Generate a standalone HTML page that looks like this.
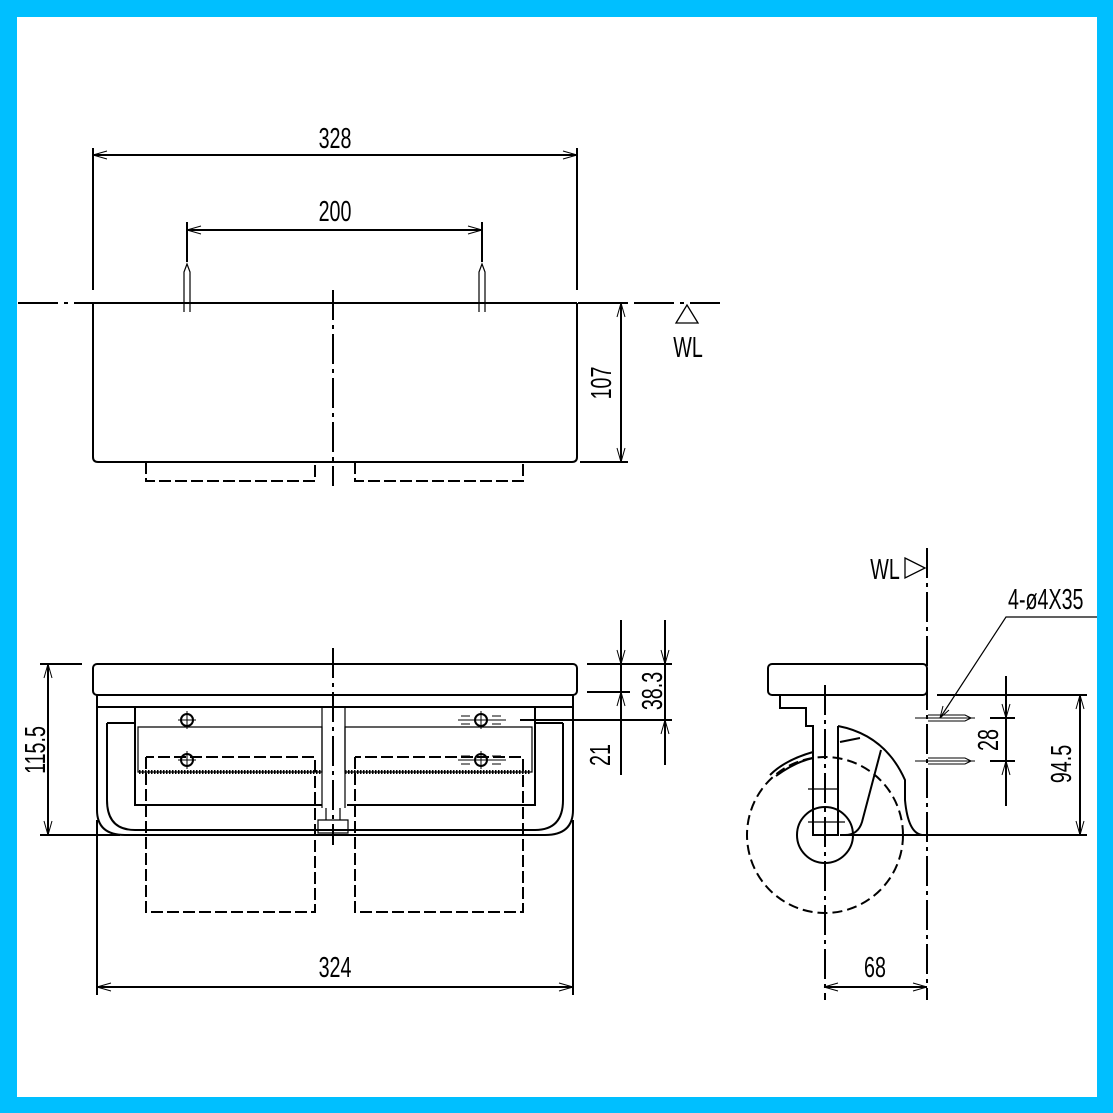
<!DOCTYPE html>
<html><head><style>
html,body{margin:0;padding:0;background:#fff}
svg{display:block}
text{font-family:"Liberation Sans Narrow","Liberation Sans",sans-serif;font-size:24px;fill:#000}
</style></head><body>
<svg width="1113" height="1113" viewBox="0 0 1113 1113" xmlns="http://www.w3.org/2000/svg">
<rect x="0" y="0" width="1113" height="1113" fill="#00BFFF"/>
<rect x="17" y="17" width="1080" height="1080" fill="#fff"/>
<g stroke="#000" stroke-width="2" fill="none">
<!-- TOP VIEW -->
<line x1="93" y1="148" x2="93" y2="290"/><line x1="577" y1="148" x2="577" y2="290"/>
<line x1="93" y1="155" x2="577" y2="155"/>
<line x1="187" y1="222" x2="187" y2="262"/><line x1="482" y1="222" x2="482" y2="262"/>
<line x1="187" y1="230" x2="482" y2="230"/>
<path d="M187,230 l14,-4 M187,230 l14,4 M482,230 l-14,-4 M482,230 l-14,4 M93,155 l14,-4 M93,155 l14,4 M577,155 l-14,-4 M577,155 l-14,4" stroke-width="1"/>
<path d="M184,312 V272 l3,-8 l3,8 V312 M479,312 V272 l3,-8 l3,8 V312" stroke-width="1.2"/>
<line x1="18" y1="303" x2="720" y2="303" stroke-dasharray="40,6,4,6"/>
<path d="M93,303 H577"/>
<path d="M93,303 V457 q0,5 5,5 H572 q5,0 5,-5 V303"/>
<line x1="333" y1="290" x2="333" y2="486" stroke-dasharray="30,5,4,5"/>
<path d="M146,462 V481 H315 V462 M355,462 V481 H523 V462" stroke-dasharray="12,4"/>
<line x1="580" y1="303" x2="628" y2="303"/><line x1="580" y1="462" x2="628" y2="462"/>
<line x1="621" y1="303" x2="621" y2="462"/>
<path d="M621,303 l-4,14 M621,303 l4,14 M621,462 l-4,-14 M621,462 l4,-14" stroke-width="1"/>
<path d="M687,305 L676,323 H698 Z" stroke-width="1.3"/>

<!-- FRONT VIEW -->
<rect x="93" y="664" width="484" height="31" rx="4"/>
<path d="M97,695 V810 Q97,835 125,835 H545 Q573,835 573,810 V695"/>
<path d="M97,707 H573"/>
<path d="M107,723 V800 Q107,830 135,830 H535 Q563,830 563,800 V723"/>
<path d="M107,723 H135 M563,723 H535 M135,707 V805 H322 M535,707 V805 H347"/>
<path d="M138,727 H322 V772 H138 Z M345,727 H532 V772 H345 Z" stroke-width="1.2"/>
<path d="M139,772 H322 M345,772 H531" stroke-width="4" stroke-dasharray="1.5,1.5"/>
<path d="M146,757 V912 H315 V757 H146 M355,757 V912 H523 V757 H355" stroke-dasharray="12,4"/>
<path d="M322,707 V808 M345,707 V808 M318,820 H348 V833 H318 Z M326,808 V820 M340,808 V820" stroke-width="1.2"/>
<line x1="333" y1="648" x2="333" y2="845" stroke-dasharray="30,5,4,5"/>
<circle cx="187" cy="720" r="6"/><circle cx="187" cy="760" r="6"/>
<circle cx="481" cy="720" r="6"/><circle cx="481" cy="760" r="6"/>
<path d="M178,720 H196 M187,711 V729 M178,760 H196 M187,751 V769 M458,720 H506 M481,711 V729 M458,760 H506 M481,751 V769" stroke-width="1"/>
<path d="M461,716 H470 M461,724 H470 M492,716 H501 M492,724 H501 M461,756 H470 M461,764 H470 M492,756 H501 M492,764 H501" stroke-width="1"/>
<line x1="40" y1="664" x2="82" y2="664"/><line x1="40" y1="835" x2="120" y2="835"/>
<line x1="48" y1="664" x2="48" y2="835"/>
<path d="M48,664 l-4,14 M48,664 l4,14 M48,835 l-4,-14 M48,835 l4,-14" stroke-width="1"/>
<line x1="587" y1="664" x2="672" y2="664"/><line x1="587" y1="692" x2="630" y2="692"/>
<line x1="520" y1="720" x2="672" y2="720"/>
<line x1="621" y1="620" x2="621" y2="775"/><line x1="665" y1="620" x2="665" y2="765"/>
<path d="M621,664 l-4,-14 M621,664 l4,-14 M621,692 l-4,14 M621,692 l4,14 M665,664 l-4,-14 M665,664 l4,-14 M665,720 l-4,14 M665,720 l4,14" stroke-width="1"/>
<line x1="97" y1="820" x2="97" y2="995"/><line x1="573" y1="820" x2="573" y2="995"/>
<line x1="97" y1="987" x2="573" y2="987"/>
<path d="M97,987 l14,-4 M97,987 l14,4 M573,987 l-14,-4 M573,987 l-14,4" stroke-width="1"/>

<!-- SIDE VIEW -->
<rect x="768" y="664" width="159" height="31" rx="4"/>
<path d="M780,695 V708 H806 V726 H813 V835 H838 V726"/>
<path d="M838,726 Q885,735 905,780 V800 Q908,833 922,835 H927"/>
<path d="M881,750 L862,822 Q858,835 845,835"/>
<path d="M813,752 Q785,760 770,775 M813,758 Q795,762 776,776 M840,742 Q860,738 860,738"/>
<circle cx="825" cy="835" r="78" stroke-dasharray="10,5"/>
<circle cx="825" cy="835" r="28"/>
<path d="M808,789 H838 M808,822 H845" stroke-width="1.2"/>
<line x1="825" y1="685" x2="825" y2="1000" stroke-dasharray="30,5,4,5"/>
<line x1="927" y1="548" x2="927" y2="1000" stroke-dasharray="30,5,4,5"/>
<path d="M905,558 L925,568 L905,578 Z" stroke-width="1.3"/>
<path d="M1097,617 H1006 L940,718" stroke-width="1.2"/>
<path d="M940,718 l3,-12 M940,718 l9,-8" stroke-width="1"/>
<path d="M915,718 H975 M915,761 H975 M928,715 H965 l6,3 l-6,3 H928 M928,758 H965 l6,3 l-6,3 H928" stroke-width="1.1"/>
<line x1="937" y1="695" x2="1087" y2="695"/><line x1="840" y1="835" x2="1087" y2="835"/>
<line x1="990" y1="718" x2="1015" y2="718"/><line x1="990" y1="761" x2="1015" y2="761"/>
<line x1="1006" y1="676" x2="1006" y2="806"/>
<path d="M1006,718 l-4,-14 M1006,718 l4,-14 M1006,761 l-4,14 M1006,761 l4,14" stroke-width="1"/>
<line x1="1080" y1="695" x2="1080" y2="835"/>
<path d="M1080,695 l-4,14 M1080,695 l4,14 M1080,835 l-4,-14 M1080,835 l4,-14" stroke-width="1"/>
<line x1="824" y1="987" x2="927" y2="987"/>
<path d="M824,987 l14,-4 M824,987 l14,4 M927,987 l-14,-4 M927,987 l-14,4" stroke-width="1"/>
</g>
<g>
<text transform="translate(335,148) scale(0.82,1.2)" text-anchor="middle">328</text>
<text transform="translate(335,221) scale(0.82,1.2)" text-anchor="middle">200</text>
<text transform="translate(688,357) scale(0.82,1.2)" text-anchor="middle">WL</text>
<text transform="translate(611,383) rotate(-90) scale(0.82,1.2)" text-anchor="middle">107</text>
<text transform="translate(45,750) rotate(-90) scale(0.82,1.2)" text-anchor="middle">115.5</text>
<text transform="translate(662,691) rotate(-90) scale(0.82,1.2)" text-anchor="middle">38.3</text>
<text transform="translate(610,755) rotate(-90) scale(0.82,1.2)" text-anchor="middle">21</text>
<text transform="translate(335,977) scale(0.82,1.2)" text-anchor="middle">324</text>
<text transform="translate(885,579) scale(0.82,1.2)" text-anchor="middle">WL</text>
<text transform="translate(1008,609) scale(0.82,1.2)">4-ø4X35</text>
<text transform="translate(998,740) rotate(-90) scale(0.82,1.2)" text-anchor="middle">28</text>
<text transform="translate(1071,764) rotate(-90) scale(0.82,1.2)" text-anchor="middle">94.5</text>
<text transform="translate(875,977) scale(0.82,1.2)" text-anchor="middle">68</text>
</g>
<rect x="1097" y="0" width="16" height="1113" fill="#00BFFF"/>
</svg>
</body></html>
